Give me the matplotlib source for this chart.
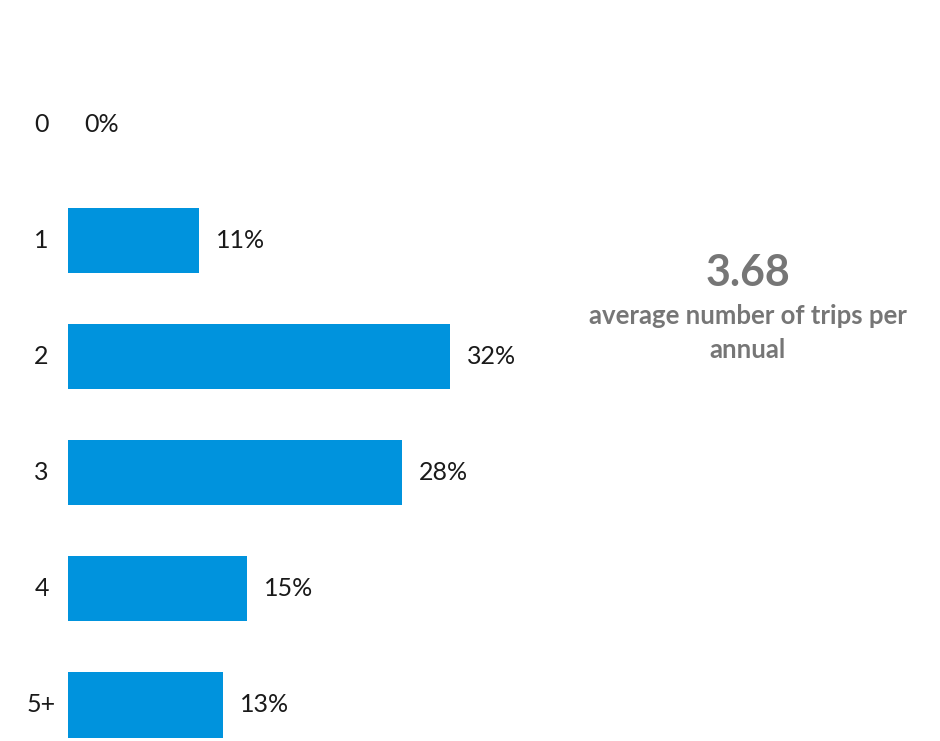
import matplotlib.pyplot as plt

plt.rcParams['font.family'] = ['Lato', 'DejaVu Sans']

# trips per year distribution
categories = ['0', '1', '2', '3', '4', '5+']
shares = [0, 11, 32, 28, 15, 13]
avg_trips = '3.68'
avg_caption = 'average number of trips per\nannual'

bar_color = '#0093dd'
grey = '#767676'

fig = plt.figure(figsize=(9.4, 7.41), dpi=100)
ax = fig.add_axes([68 / 940, 0, (560 - 68) / 940, 1])

ypos = list(range(len(categories)))
ax.barh(ypos, shares, height=0.56, color=bar_color)

ax.set_xlim(0, (560 - 68) / 11.94)
ax.set_ylim(5.31, -1.07)

for y, cat, v in zip(ypos, categories, shares):
    ax.annotate(cat, (0, y), xytext=(-19, 0), textcoords='offset points',
                ha='center', va='center', fontsize=18, color='#1a1a1a')
    ax.annotate(f'{v}%', (v, y), xytext=(12, 0), textcoords='offset points',
                ha='left', va='center', fontsize=18, color='#1a1a1a')

ax.axis('off')

fig.text(748 / 940, 1 - 273 / 741, avg_trips, ha='center', va='center',
         fontsize=31, fontweight='bold', color=grey)
fig.text(748 / 940, 1 - 333 / 741, avg_caption, ha='center', va='center',
         fontsize=18.5, fontweight='bold', color=grey, linespacing=1.45)

fig.savefig('out.png', dpi=100)
